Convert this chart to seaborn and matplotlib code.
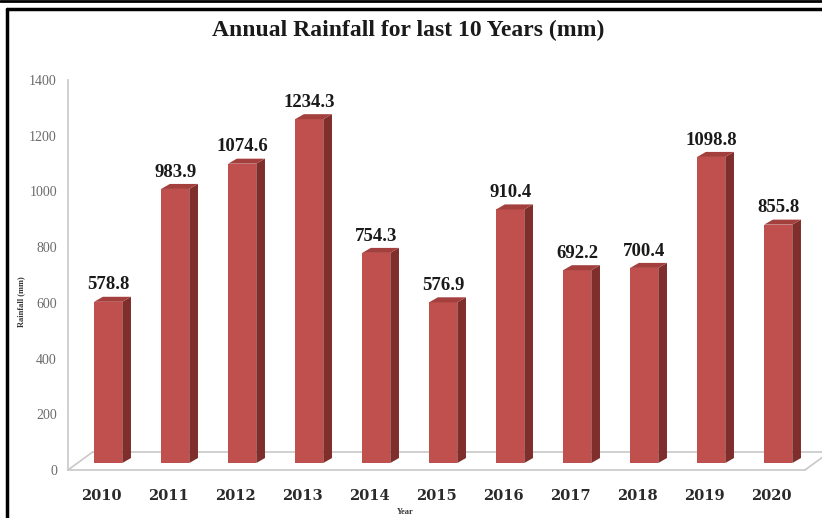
import pandas as pd
import matplotlib.pyplot as plt
import seaborn as sns
from matplotlib.patches import Polygon
from matplotlib.lines import Line2D

# datos
years = ['2010', '2011', '2012', '2013', '2014', '2015', '2016', '2017', '2018', '2019', '2020']
rainfall = [578.8, 983.9, 1074.6, 1234.3, 754.3, 576.9, 910.4, 692.2, 700.4, 1098.8, 855.8]
y_ticks = [0, 200, 400, 600, 800, 1000, 1200, 1400]

df = pd.DataFrame({'Year': years, 'Rainfall': rainfall})

FRONT = '#C0504D'
SIDE = '#7F2E2B'
TOP = '#A3403D'
GRID = '#C8C8C8'
SERIF = ['Liberation Serif', 'DejaVu Serif']

sns.set_style('white')
plt.rcParams['font.family'] = SERIF

fig = plt.figure(figsize=(8.22, 5.18), dpi=100)
ax = fig.add_axes([68 / 822, 1 - 470 / 518, (805 - 68) / 822, (470 - 80) / 518])

sns.barplot(data=df, x='Year', y='Rainfall', color=FRONT, width=0.42,
            saturation=1, ax=ax, linewidth=0, zorder=2)

# efecto 3D: desplazar barras y dibujar cara lateral y superior
shift_x, shift_y = 0.1, 25
dx, dy = 0.13, 18
for p in ax.patches:
    p.set_x(p.get_x() + shift_x)
    p.set_y(p.get_y() + shift_y)
    x0, x1 = p.get_x(), p.get_x() + p.get_width()
    y0, y1 = p.get_y(), p.get_y() + p.get_height()
    ax.add_patch(Polygon([(x1, y0), (x1, y1), (x1 + dx, y1 + dy), (x1 + dx, y0 + dy)],
                         closed=True, facecolor=SIDE, edgecolor='none', zorder=2))
    ax.add_patch(Polygon([(x0, y1), (x1, y1), (x1 + dx, y1 + dy), (x0 + dx, y1 + dy)],
                         closed=True, facecolor=TOP, edgecolor='none', zorder=2))

ax.bar_label(ax.containers[0], labels=[f'{v:.1f}' for v in rainfall], padding=6,
             fontsize=13.5, fontweight='bold', color='#1a1a1a')

# piso en perspectiva
fx, fy = 0.37, 65
ax.plot([-0.5, 10.5], [0, 0], color=GRID, lw=1.2, clip_on=False, zorder=0.5)
ax.plot([-0.5 + fx, 10.5 + fx], [fy, fy], color=GRID, lw=1.2, clip_on=False, zorder=0.5)
ax.plot([-0.5, -0.5 + fx], [0, fy], color=GRID, lw=1.2, clip_on=False, zorder=0.5)
ax.plot([10.5, 10.5 + fx], [0, fy], color=GRID, lw=1.2, clip_on=False, zorder=0.5)

ax.set_xlim(-0.5, 10.5)
ax.set_ylim(0, 1400)
ax.set_yticks(y_ticks)
ax.set_xticks([i - 0.5 for i in range(12)], minor=True)
ax.tick_params(axis='x', which='major', length=0, pad=14)
ax.tick_params(axis='x', which='minor', length=5, color=GRID, width=1.2, direction='out')
ax.tick_params(axis='y', length=5, color=GRID, width=1.2, direction='out', pad=3,
               labelsize=10, labelcolor='#6b6b6b')
for lab in ax.get_xticklabels():
    lab.set_family(['DejaVu Serif'])
    lab.set_fontweight('bold')
    lab.set_fontsize(10.5)
    lab.set_color('#2a2a2a')

for s in ['top', 'right', 'bottom']:
    ax.spines[s].set_visible(False)
ax.spines['left'].set_color(GRID)
ax.spines['left'].set_linewidth(1.2)

ax.set_xlabel('')
ax.set_ylabel('')
fig.text(405 / 822, 1 - 512 / 518, 'Year', ha='center', va='center', fontsize=6,
         fontweight='bold', color='#333333')
fig.text(21 / 822, 1 - 302 / 518, 'Rainfall (mm)', ha='center', va='center', fontsize=6,
         fontweight='bold', rotation=90, color='#333333')

fig.text(408 / 822, 1 - 30 / 518, 'Annual Rainfall for last 10 Years (mm)', ha='center',
         va='center', fontsize=17, fontweight='bold', color='#1a1a1a')

# marco negro
fig.add_artist(Line2D([0, 1], [1 - 1 / 518, 1 - 1 / 518], color='black', lw=2))
fig.add_artist(Line2D([7 / 822, 1], [1 - 9 / 518, 1 - 9 / 518], color='black', lw=2.5))
fig.add_artist(Line2D([7 / 822, 7 / 822], [1 - 9 / 518, 0], color='black', lw=2.5))

fig.savefig('out.png', dpi=100)
